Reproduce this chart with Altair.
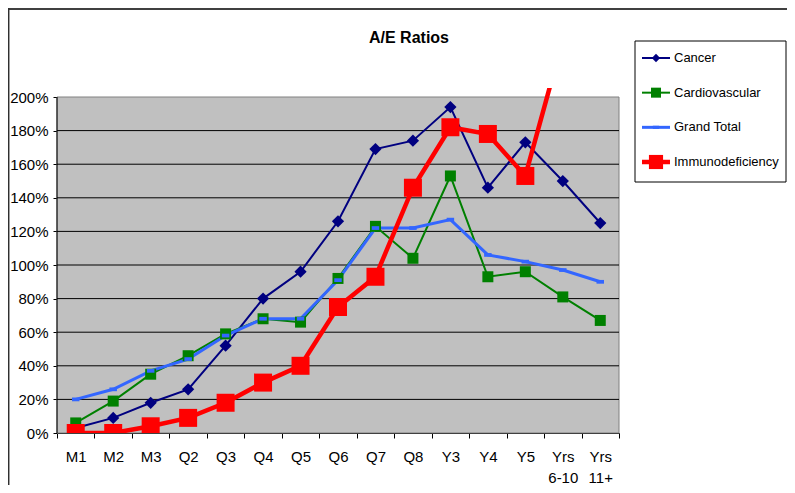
import altair as alt
import pandas as pd

# ---- data ----
categories = ["M1", "M2", "M3", "Q2", "Q3", "Q4", "Q5", "Q6", "Q7", "Q8",
              "Y3", "Y4", "Y5", "Yrs 6-10", "Yrs 11+"]
series = ["Cancer", "Cardiovascular", "Grand Total", "Immunodeficiency"]
cancer = [0.03, 0.09, 0.18, 0.26, 0.52, 0.80, 0.96, 1.26, 1.69, 1.74, 1.94, 1.46, 1.73, 1.50, 1.25]
cardio = [0.06, 0.19, 0.35, 0.46, 0.59, 0.68, 0.66, 0.92, 1.23, 1.04, 1.53, 0.93, 0.96, 0.81, 0.67]
grand = [0.20, 0.26, 0.37, 0.44, 0.58, 0.68, 0.68, 0.91, 1.22, 1.22, 1.27, 1.06, 1.02, 0.97, 0.90]
immuno = [0.00, 0.00, 0.04, 0.09, 0.18, 0.30, 0.40, 0.75, 0.93, 1.46, 1.82, 1.78, 1.53, 2.34, None]
y_ticks = [0.0, 0.2, 0.4, 0.6, 0.8, 1.0, 1.2, 1.4, 1.6, 1.8, 2.0]
grid_vals = [0.2, 0.4, 0.6, 0.8, 1.0, 1.2, 1.4, 1.6, 1.8]
title_text = "A/E Ratios"

rows = []
for name, vals in zip(series, [cancer, cardio, grand, immuno]):
    for c, v in zip(categories, vals):
        rows.append({"cat": c, "series": name, "value": v})
df = pd.DataFrame(rows)
legend_df = pd.DataFrame({"series": series})
grid_df = pd.DataFrame({"g": grid_vals})
one = pd.DataFrame({"t": [title_text]})

FONT = "Liberation Sans"
W, H = 562, 345
YMAX = 2.0536

styles = {
    "Cancer": dict(color="#000080", width=2, shape="diamond", size=150, lsize=70),
    "Cardiovascular": dict(color="#008000", width=2, shape="square", size=121, lsize=100),
    "Grand Total": dict(color="#3366FF", width=3, shape="M-1,-0.5H1V0.5H-1Z", size=56, lsize=40),
    "Immunodeficiency": dict(color="#FF0000", width=4.5, shape="square", size=324, lsize=200),
}

xaxis = alt.Axis(tickBand="extent", grid=False, domainColor="black", tickColor="black",
                 tickSize=5, labelFontSize=15, labelColor="black", labelFont=FONT,
                 labelPadding=11, labelAngle=0, labelExpr="split(datum.label, ' ')",
                 labelLineHeight=21, labelOverlap=False)
xscale = alt.Scale(domain=categories, paddingInner=0, paddingOuter=0)
yscale = alt.Scale(domain=[0, YMAX], nice=False, zero=True)
yaxis = alt.Axis(values=y_ticks, format=".0%", domain=False, grid=False, tickColor="black",
                 tickSize=4, labelPadding=5, labelFontSize=15, labelColor="black",
                 labelFont=FONT, title=None, labelOverlap=False)

bg = alt.Chart(one).mark_rect(fill="#C0C0C0", stroke="#808080", strokeWidth=1).encode(
    x=alt.value(0), x2=alt.value(W), y=alt.datum(0, scale=yscale, axis=yaxis), y2=alt.datum(2.0))

grid = alt.Chart(grid_df).mark_rule(color="black", strokeWidth=1).encode(
    y=alt.Y("g:Q", axis=yaxis), x=alt.value(0), x2=alt.value(W))

yaxis_line = alt.Chart(one).mark_rule(color="black", strokeWidth=1).encode(
    x=alt.value(0), y=alt.datum(0, axis=yaxis), y2=alt.datum(2.0))

layers = [bg, grid, yaxis_line]
for i, s in enumerate(series):
    st = styles[s]
    layers.append(
        alt.Chart(df).transform_filter(alt.datum.series == s).mark_line(
            clip=True, color=st["color"], strokeWidth=st["width"]).encode(
            x=alt.X("cat:N", sort=categories, title=None, scale=xscale, axis=xaxis),
            y=alt.Y("value:Q", axis=yaxis)))
for s in series:
    st = styles[s]
    layers.append(
        alt.Chart(df).transform_filter(alt.datum.series == s).mark_point(
            clip=True, filled=True, opacity=1, color=st["color"], shape=st["shape"],
            size=st["size"]).encode(
            x=alt.X("cat:N", sort=categories, axis=xaxis), y=alt.Y("value:Q", axis=yaxis)))

frame_top = alt.Chart(one).mark_rule(color="#404040", strokeWidth=2).encode(
    x=alt.value(-49), x2=alt.value(740), y=alt.value(-79))
frame_left = alt.Chart(one).mark_rule(color="#303030", strokeWidth=1.5).encode(
    x=alt.value(-48.3), y=alt.value(-80), y2=alt.value(400))
title = alt.Chart(one).mark_text(font=FONT, fontSize=16, fontWeight="bold", align="center",
                                 baseline="alphabetic", color="black").encode(
    x=alt.value(352), y=alt.value(-45), text="t:N")
layers += [frame_top, frame_left, title]
main = alt.layer(*layers)

# ---- legend ----
ly = alt.Y("series:N", scale=alt.Scale(domain=series, type="point", range=[-30, 74], padding=0),
           axis=None)
leg_layers = [alt.Chart(one).mark_rect(fill="white", stroke="black", strokeWidth=1).encode(
    x=alt.value(578), x2=alt.value(729), y=alt.value(-47), y2=alt.value(94))]
for s in series:
    st = styles[s]
    src = alt.Chart(legend_df).transform_filter(alt.datum.series == s)
    leg_layers.append(src.mark_rule(color=st["color"], strokeWidth=st["width"]).encode(
        x=alt.value(585), x2=alt.value(613), y=ly))
    leg_layers.append(src.mark_point(filled=True, opacity=1, color=st["color"], shape=st["shape"],
                                     size=st["lsize"]).encode(x=alt.value(599), y=ly))
leg_layers.append(alt.Chart(legend_df).mark_text(font=FONT, fontSize=13, align="left",
                                                 baseline="middle", color="black").encode(
    x=alt.value(617), y=ly, text="series:N"))
legend = alt.layer(*leg_layers)

chart = alt.layer(main, legend).resolve_scale(y="independent").properties(
    width=W, height=H,
    autosize=alt.AutoSizeParams(type="none"),
    padding={"left": 49, "top": 80, "right": 168, "bottom": 52},
    background="white",
).configure_view(stroke=None).configure_axisY(labelOverlap=False)

chart.save("out.html", embed_options={"renderer": "svg", "actions": False})
